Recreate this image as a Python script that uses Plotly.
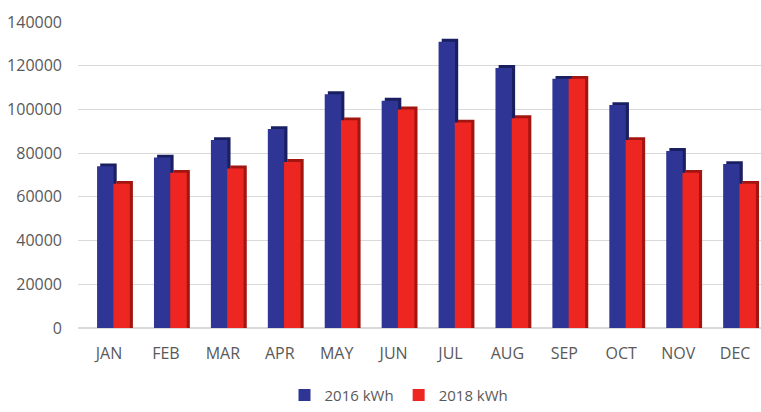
import plotly.graph_objects as go

months = ["JAN", "FEB", "MAR", "APR", "MAY", "JUN", "JUL", "AUG", "SEP", "OCT", "NOV", "DEC"]
kwh_2016 = [74000, 78000, 86000, 91000, 107000, 104000, 131000, 119000, 114000, 102000, 81000, 75000]
kwh_2018 = [66000, 71000, 73000, 76000, 95000, 100000, 94000, 96000, 114000, 86000, 71000, 66000]
y_ticks = [0, 20000, 40000, 60000, 80000, 100000, 120000, 140000]

BLUE = "#2E3595"
BLUE_DARK = "#1A1F62"
RED = "#EE2622"
RED_DARK = "#A3150F"
DEPTH = 1300  # pseudo-3D depth in data units
W = 0.29

fig = go.Figure()
fig.add_trace(go.Bar(x=months, y=[v + DEPTH for v in kwh_2016], offset=-0.21 + 0.055, width=W,
                     marker=dict(color=BLUE_DARK, line=dict(width=0)), showlegend=False, hoverinfo="skip"))
fig.add_trace(go.Bar(x=months, y=kwh_2016, offset=-0.21, width=W, name="2016 kWh",
                     marker=dict(color=BLUE, line=dict(width=0))))
fig.add_trace(go.Bar(x=months, y=[v + DEPTH for v in kwh_2018], offset=0.075 + 0.055, width=W,
                     marker=dict(color=RED_DARK, line=dict(width=0)), showlegend=False, hoverinfo="skip"))
fig.add_trace(go.Bar(x=months, y=kwh_2018, offset=0.075, width=W, name="2018 kWh",
                     marker=dict(color=RED, line=dict(width=0))))

fig.update_layout(
    width=761, height=412,
    barmode="overlay",
    paper_bgcolor="white", plot_bgcolor="white",
    margin=dict(l=78, r=0, t=22, b=77),
    font=dict(family="Open Sans", size=16, color="#595959"),
    legend=dict(orientation="h", x=0.47, xanchor="center", y=-0.22, yanchor="middle",
                font=dict(size=15, color="#595959"), traceorder="normal",
                itemwidth=30),
    xaxis=dict(type="category", range=[-0.545, 11.455], showgrid=False, showline=False,
               ticks="", ticklabelstandoff=14, automargin=False,
               tickfont=dict(size=16, color="#595959")),
    yaxis=dict(range=[0, 140000], tickvals=y_ticks, ticktext=[str(t) for t in y_ticks],
               showgrid=True, gridcolor="#D9D9D9", gridwidth=1, zeroline=True,
               zerolinecolor="#D9D9D9", showline=False, ticks="", ticklabelstandoff=15,
               automargin=False, tickfont=dict(size=16, color="#595959")),
)

fig.write_html("out.html", config={"displayModeBar": False},
               post_script="document.body.style.margin='0';document.body.style.overflow='hidden';")
